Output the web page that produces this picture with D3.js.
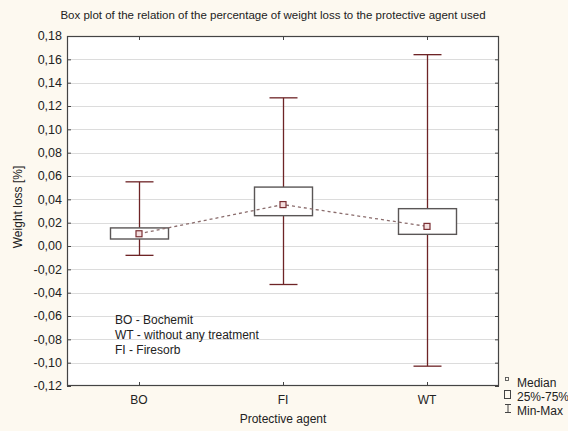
<!DOCTYPE html>
<html>
<head>
<meta charset="utf-8">
<script src="https://cdn.jsdelivr.net/npm/d3@7"></script>
<style>
  html, body { margin: 0; padding: 0; background: #fdf9f0; }
  svg { display: block; font-family: "Liberation Sans", Arial, sans-serif; }
</style>
</head>
<body>
<svg id="chart" width="568" height="431"></svg>
<script>
// Weight loss per protective agent: min, quartiles, median, max
const categories = ["BO", "FI", "WT"];
const minVals    = [-0.008, -0.033, -0.103];
const q1Vals     = [0.006, 0.026, 0.010];
const medianVals = [0.0105, 0.0355, 0.0168];
const q3Vals     = [0.0155, 0.0505, 0.032];
const maxVals    = [0.055, 0.127, 0.164];

const yTickValues = [-0.12, -0.10, -0.08, -0.06, -0.04, -0.02, 0.00,
                     0.02, 0.04, 0.06, 0.08, 0.10, 0.12, 0.14, 0.16, 0.18];

const legendItems = ["Median", "25%-75%", "Min-Max"];
const noteLines = ["BO - Bochemit", "WT - without any treatment", "FI - Firesorb"];

const svg = d3.select("#chart");
const plot = { left: 67, right: 499, top: 36, bottom: 386 };

const x = d3.scalePoint().domain(categories).range([plot.left, plot.right]).padding(0.5);
const y = d3.scaleLinear().domain([-0.12, 0.18]).range([plot.bottom, plot.top]);

const locale = d3.formatLocale({ decimal: ",", thousands: " ", grouping: [3], currency: ["", ""], minus: "-" });
const fmt = locale.format(".2f");

// plot area
svg.append("rect")
  .attr("x", plot.left).attr("y", plot.top)
  .attr("width", plot.right - plot.left).attr("height", plot.bottom - plot.top)
  .attr("fill", "#ffffff");

// horizontal gridlines
svg.append("g").selectAll("line").data(yTickValues.slice(1, -1)).join("line")
  .attr("x1", plot.left).attr("x2", plot.right)
  .attr("y1", d => Math.round(y(d)) + 0.5).attr("y2", d => Math.round(y(d)) + 0.5)
  .attr("stroke", "#dcdcdc").attr("stroke-width", 1);

// axes with inward ticks
const tickColor = "#444";
const yAxis = svg.append("g").attr("transform", `translate(${plot.left},0)`)
  .call(d3.axisRight(y).tickValues(yTickValues).tickFormat("").tickSize(4).tickSizeOuter(0));
yAxis.select(".domain").remove();
yAxis.selectAll("line").attr("stroke", tickColor);

const yAxisR = svg.append("g").attr("transform", `translate(${plot.right},0)`)
  .call(d3.axisLeft(y).tickValues(yTickValues).tickFormat("").tickSize(4).tickSizeOuter(0));
yAxisR.select(".domain").remove();
yAxisR.selectAll("line").attr("stroke", tickColor);

const xAxisB = svg.append("g").attr("transform", `translate(0,${plot.bottom})`)
  .call(d3.axisTop(x).tickFormat("").tickSize(4).tickSizeOuter(0));
xAxisB.select(".domain").remove();
xAxisB.selectAll("line").attr("stroke", tickColor);

const xAxisT = svg.append("g").attr("transform", `translate(0,${plot.top})`)
  .call(d3.axisBottom(x).tickFormat("").tickSize(4).tickSizeOuter(0));
xAxisT.select(".domain").remove();
xAxisT.selectAll("line").attr("stroke", tickColor);

// y tick labels
svg.append("g").selectAll("text").data(yTickValues).join("text")
  .attr("x", plot.left - 5).attr("y", d => y(d)).attr("dy", "0.35em")
  .attr("text-anchor", "end").attr("font-size", 12.5).attr("fill", "#222")
  .text(d => fmt(d));

// x tick labels
svg.append("g").selectAll("text").data(categories).join("text")
  .attr("x", d => x(d)).attr("y", plot.bottom + 18)
  .attr("text-anchor", "middle").attr("font-size", 12).attr("fill", "#222")
  .text(d => d);

// whiskers and boxes
const whiskerColor = "#6e2426";
const capHalf = 14;
const boxHalf = 29;
const g = svg.append("g");
categories.forEach((c, i) => {
  const cx = Math.round(x(c)) + 0.5;
  g.append("line").attr("x1", cx).attr("x2", cx)
    .attr("y1", y(maxVals[i])).attr("y2", y(q3Vals[i]))
    .attr("stroke", whiskerColor).attr("stroke-width", 1.3);
  g.append("line").attr("x1", cx).attr("x2", cx)
    .attr("y1", y(q1Vals[i])).attr("y2", y(minVals[i]))
    .attr("stroke", whiskerColor).attr("stroke-width", 1.3);
  [maxVals[i], minVals[i]].forEach(v => {
    g.append("line").attr("x1", cx - capHalf).attr("x2", cx + capHalf)
      .attr("y1", y(v)).attr("y2", y(v))
      .attr("stroke", whiskerColor).attr("stroke-width", 1.3);
  });
  g.append("rect")
    .attr("x", cx - boxHalf).attr("y", y(q3Vals[i]))
    .attr("width", boxHalf * 2).attr("height", y(q1Vals[i]) - y(q3Vals[i]))
    .attr("fill", "#ffffff").attr("stroke", "#5a5656").attr("stroke-width", 1.4);
});

// dashed median line
svg.append("path")
  .datum(categories.map((c, i) => [x(c), y(medianVals[i])]))
  .attr("d", d3.line())
  .attr("fill", "none").attr("stroke", "#8a6c6c").attr("stroke-width", 1.3)
  .attr("stroke-dasharray", "3,3");

// median markers
svg.append("g").selectAll("rect").data(categories).join("rect")
  .attr("x", (d, i) => x(d) - 3).attr("y", (d, i) => y(medianVals[i]) - 3)
  .attr("width", 6).attr("height", 6)
  .attr("fill", "#f3dede").attr("stroke", "#7a2e32").attr("stroke-width", 1.2);

// frame
svg.append("rect")
  .attr("x", plot.left + 0.5).attr("y", plot.top + 0.5)
  .attr("width", plot.right - plot.left - 1).attr("height", plot.bottom - plot.top - 1)
  .attr("fill", "none").attr("stroke", "#444").attr("stroke-width", 1.2);

// abbreviations note
svg.append("g").selectAll("text").data(noteLines).join("text")
  .attr("x", 115).attr("y", (d, i) => 324 + i * 15)
  .attr("font-size", 12).attr("fill", "#222")
  .text(d => d);

// title and axis titles
svg.append("text")
  .attr("x", 273).attr("y", 19).attr("text-anchor", "middle")
  .attr("font-size", 11.5).attr("fill", "#222")
  .text("Box plot of the relation of the percentage of weight loss to the protective agent used");

svg.append("text")
  .attr("x", plot.left + (plot.right - plot.left) / 2).attr("y", 423)
  .attr("text-anchor", "middle").attr("font-size", 12).attr("fill", "#222")
  .text("Protective agent");

svg.append("text")
  .attr("transform", `translate(22,207) rotate(-90)`)
  .attr("text-anchor", "middle").attr("font-size", 12).attr("fill", "#222")
  .text("Weight loss [%]");

// legend
const lg = svg.append("g");
const legendY = [383, 397, 411];
lg.selectAll("text").data(legendItems).join("text")
  .attr("x", 517).attr("y", (d, i) => legendY[i]).attr("dy", "0.35em")
  .attr("font-size", 12).attr("fill", "#222")
  .text(d => d);
// median glyph
lg.append("rect").attr("x", 505.5).attr("y", legendY[0] - 5.5).attr("width", 3).attr("height", 3)
  .attr("fill", "none").attr("stroke", "#555").attr("stroke-width", 0.9);
// box glyph
lg.append("rect").attr("x", 504.5).attr("y", legendY[1] - 6.5).attr("width", 6).attr("height", 8)
  .attr("fill", "none").attr("stroke", "#444").attr("stroke-width", 1);
// min-max glyph
lg.append("path")
  .attr("d", `M505,${legendY[2] - 6.5}H511M508,${legendY[2] - 6.5}V${legendY[2] + 1.5}M505,${legendY[2] + 1.5}H511`)
  .attr("fill", "none").attr("stroke", "#444").attr("stroke-width", 1);
</script>
</body>
</html>
